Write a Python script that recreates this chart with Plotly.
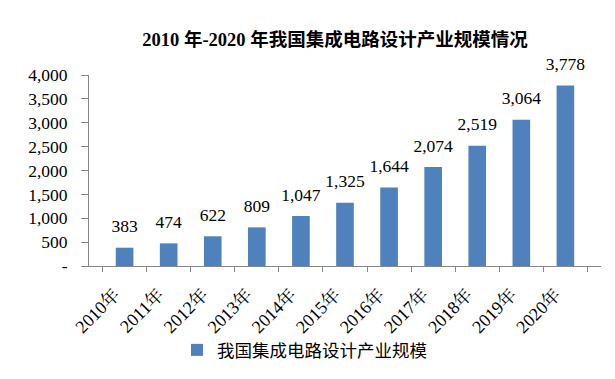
import plotly.graph_objects as go

years = ["2010年", "2011年", "2012年", "2013年", "2014年", "2015年",
         "2016年", "2017年", "2018年", "2019年", "2020年"]
values = [383, 474, 622, 809, 1047, 1325, 1644, 2074, 2519, 3064, 3778]
y_tickvals = [0, 500, 1000, 1500, 2000, 2500, 3000, 3500, 4000]
y_ticktext = ["-", "500", "1,000", "1,500", "2,000", "2,500", "3,000", "3,500", "4,000"]
series_name = "我国集成电路设计产业规模"
title_text = "2010 年-2020 年我国集成电路设计产业规模情况"

serif = "Liberation Serif, Noto Serif CJK SC, Noto Sans CJK SC, serif"

fig = go.Figure()
fig.add_trace(go.Bar(
    x=years, y=values, name=series_name,
    marker=dict(color="#4F81BD", line=dict(width=0)),
    showlegend=True,
))
# data labels, drawn from the same values
fig.add_trace(go.Scatter(
    x=years, y=values, mode="markers+text",
    marker=dict(size=16, opacity=0),
    text=[f"{v:,}" for v in values], textposition="top center",
    textfont=dict(family=serif, size=17.5, color="#000000"),
    cliponaxis=False, showlegend=False, hoverinfo="skip",
))

fig.update_layout(
    width=615, height=379,
    paper_bgcolor="white", plot_bgcolor="white",
    margin=dict(l=89, r=14, t=75, b=113, autoexpand=False),
    bargap=0.6,
    title=dict(text="<b>" + title_text + "</b>", x=335 / 615, xanchor="center",
               xref="container", yref="container",
               y=1 - 40 / 379, yanchor="middle",
               font=dict(family="Liberation Serif, Noto Sans CJK SC, serif", size=18.5, color="#000000")),
    xaxis=dict(
        type="category", tickangle=-45, tickson="boundaries",
        ticks="outside", ticklen=5, tickcolor="#868686",
        showline=True, linecolor="#868686", linewidth=1,
        tickfont=dict(family=serif, size=18, color="#000000"),
        showgrid=False, automargin=False,
        ticklabelshift=-10, ticklabelstandoff=10,
    ),
    yaxis=dict(
        range=[0, 4000], tickvals=y_tickvals, ticktext=y_ticktext,
        ticks="outside", ticklen=7, tickcolor="#868686",
        showline=True, linecolor="#868686", linewidth=1,
        tickfont=dict(family=serif, size=17.5, color="#000000"),
        showgrid=False, zeroline=False, ticklabelstandoff=10,
        automargin=False,
    ),
    legend=dict(orientation="h", x=177 / 615, xanchor="left",
                xref="container", yref="container",
                y=1 - 350 / 379, yanchor="middle",
                font=dict(family="Noto Sans CJK SC, sans-serif", size=17.5, color="#000000"),
                itemwidth=30, bgcolor="rgba(0,0,0,0)"),
)

fig.write_html("out.html", config={"displayModeBar": False},
               post_script="document.body.style.margin='0';document.body.style.overflow='hidden';")
